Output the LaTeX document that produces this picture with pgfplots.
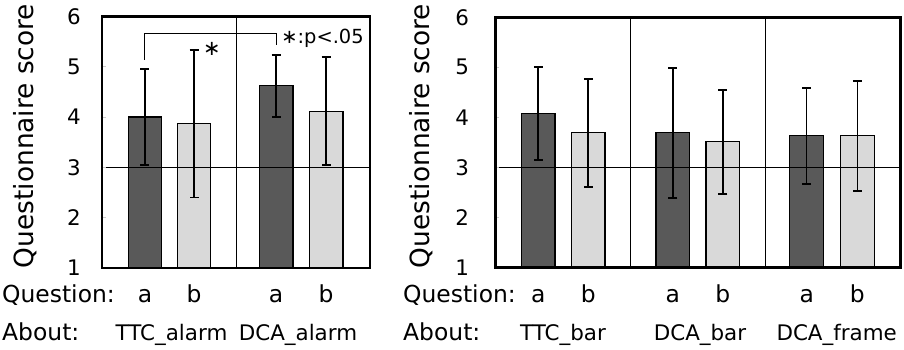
\documentclass[border=0pt]{standalone}
\usepackage{fontspec}
\setmainfont{DejaVu Sans}
\usepackage{pgfplots}
\usepackage{pgfplotstable}
\pgfplotsset{compat=1.18}
\definecolor{darkbar}{HTML}{595959}
\definecolor{lightbar}{HTML}{D9D9D9}

\pgfplotstableread{
x y ep em
0.96 4.00 0.96 0.96
3.90 4.62 0.62 0.62
}\leftA
\pgfplotstableread{
x y ep em
2.06 3.87 1.46 1.47
5.02 4.11 1.09 1.07
}\leftB
\pgfplotstableread{
x y ep em
0.955 4.07 0.93 0.93
3.94 3.69 1.30 1.30
6.91 3.63 0.96 0.96
}\rightA
\pgfplotstableread{
x y ep em
2.065 3.69 1.08 1.08
5.05 3.51 1.04 1.04
8.04 3.63 1.10 1.10
}\rightB

\begin{document}
\begin{tikzpicture}
\useasboundingbox (0bp,0bp) rectangle (904bp,350bp);
\pgfplotsset{
 panel/.style={
  scale only axis, anchor=south west,
  ymin=1, ymax=6, ytick={1,...,6},
  axis line style={line width=2.6bp},
  axis on top,
  tick align=inside, major tick length=4bp,
  ytick pos=left,
  ytick style={gray!40, line width=0.6bp},
  xtick=\empty,
  /pgf/number format/assume math mode=true,
  yticklabel style={font=\fontsize{21.5}{21.5}\selectfont, inner sep=0pt},
 },
 barbase/.style={ybar, bar shift=0pt, bar width=33.5bp, draw=black, line width=1.2bp,
   error bars/y dir=both, error bars/y explicit,
   error bars/error mark=-,
   error bars/error bar style={line width=1.8bp, black},
   error bars/error mark options={line width=1.8bp, black, mark size=4.5bp, rotate=90}},
 dbar/.style={barbase, fill=darkbar},
 lbar/.style={barbase, fill=lightbar},
 thinline/.style={sharp plot, black, line width=1bp, mark=none, forget plot},
}
% Left panel
\begin{axis}[panel, at={(102bp,82bp)}, width=268bp, height=251.6bp, xmin=0, xmax=6,
  yticklabel style={xshift=-21bp}]
\addplot[dbar] table[x=x, y=y, y error plus=ep, y error minus=em] {\leftA};
\addplot[lbar] table[x=x, y=y, y error plus=ep, y error minus=em] {\leftB};
\addplot[thinline] coordinates {(0,3) (6,3)};
\addplot[thinline] coordinates {(3,1) (3,6)};
\addplot[thinline] coordinates {(0.96,5.14) (0.96,5.67) (3.90,5.67) (3.90,5.44)};
\end{axis}
% Right panel
\begin{axis}[panel, at={(495.3bp,82.7bp)}, width=405.4bp, height=250bp, xmin=0, xmax=9,
  yticklabel style={xshift=-26bp}]
\addplot[dbar] table[x=x, y=y, y error plus=ep, y error minus=em] {\rightA};
\addplot[lbar] table[x=x, y=y, y error plus=ep, y error minus=em] {\rightB};
\addplot[thinline] coordinates {(0,3) (9,3)};
\addplot[thinline] coordinates {(3,1) (3,6)};
\addplot[thinline] coordinates {(6,1) (6,6)};
\end{axis}

% y labels
\node[rotate=90, font=\fontsize{26.5}{26.5}\selectfont] at (25bp,214bp) {Questionnaire score};
\node[rotate=90, font=\fontsize{26.5}{26.5}\selectfont] at (421bp,214bp) {Questionnaire score};

% annotations
\node[font=\fontsize{21}{21}\selectfont, inner sep=0pt] at (212bp,301bp) {∗};
\node[font=\fontsize{19.5}{19.5}\selectfont, inner sep=0pt] at (322.5bp,312bp) {∗:p<.05};

% row texts
\begin{scope}[every node/.style={font=\fontsize{23.5}{23.5}\selectfont, inner sep=0pt, anchor=base}]
\node[anchor=base west] at (2bp,47bp) {Question:};
\node[anchor=base west] at (2bp,10bp) {About:};
\node at (145bp,47bp) {a};
\node at (194bp,47bp) {b};
\node at (276bp,47bp) {a};
\node at (326bp,47bp) {b};
\node[anchor=base west] at (403bp,47bp) {Question:};
\node[anchor=base west] at (403bp,10bp) {About:};
\node at (538.3bp,47bp) {a};
\node at (588.3bp,47bp) {b};
\node at (672.7bp,47bp) {a};
\node at (722.7bp,47bp) {b};
\node at (806.7bp,47bp) {a};
\node at (857.3bp,47bp) {b};
\end{scope}
\begin{scope}[every node/.style={font=\fontsize{21.5}{21.5}\selectfont, inner sep=0pt, anchor=base}]
\node at (171.5bp,10bp) {TTC\_alarm};
\node at (298bp,10bp) {DCA\_alarm};
\node at (563bp,10bp) {TTC\_bar};
\node at (700bp,10bp) {DCA\_bar};
\node at (836.7bp,10bp) {DCA\_frame};
\end{scope}
\end{tikzpicture}
\end{document}
